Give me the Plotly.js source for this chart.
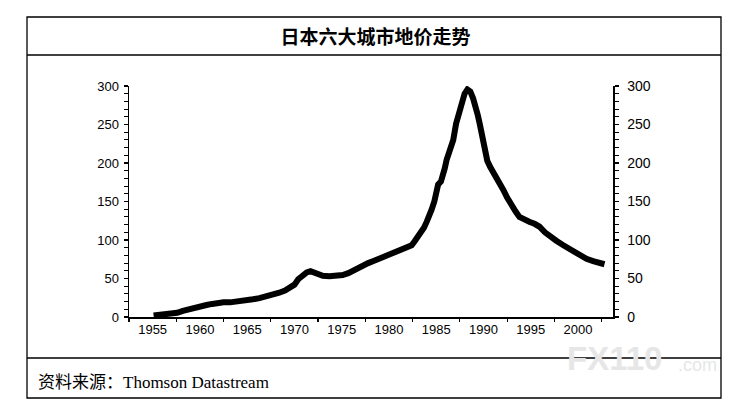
<!DOCTYPE html>
<html>
<head>
<meta charset="utf-8">
<script src="https://cdn.plot.ly/plotly-3.0.1.min.js"></script>
<style>html,body{margin:0;padding:0;background:#fff;}#chart{width:751px;height:414px;}</style>
</head>
<body>
<div id="chart"></div>
<script>
// ---- data ----
const years = [1955.1,1956.0,1957.0,1957.6,1958.2,1959.0,1959.6,1960.2,1960.7,1961.3,1961.9,1962.5,1963.2,1964.2,1964.9,1965.6,1966.3,1967.0,1967.7,1968.4,1969.0,1969.5,1970.0,1970.4,1970.9,1971.3,1971.7,1972.0,1972.3,1972.7,1973.0,1973.7,1974.5,1975.1,1975.7,1976.2,1976.8,1977.3,1977.8,1978.3,1978.9,1979.4,1979.9,1980.4,1980.8,1981.4,1982.0,1982.4,1982.7,1983.0,1983.3,1983.7,1984.0,1984.3,1984.5,1984.8,1985.0,1985.2,1985.5,1985.7,1985.9,1986.1,1986.4,1986.8,1987.1,1987.4,1987.7,1988.0,1988.3,1988.6,1988.9,1989.1,1989.4,1989.6,1989.9,1990.1,1990.4,1990.7,1991.0,1991.4,1991.7,1992.1,1992.5,1992.9,1993.4,1993.8,1994.3,1994.9,1995.4,1995.9,1996.5,1997.0,1997.7,1998.4,1999.0,1999.6,2000.2,2000.9,2001.6,2002.3,2002.8];
const landPrice = [2,3,3.5,5.5,8,11,13.5,15,15.6,17,18.6,19,19,20,21,23,24.5,26.5,29,31.6,34.5,37.5,42,49,55.5,58,59.5,58,55.5,54,53.5,53,53.5,54.5,57,60.5,64.5,67.5,70,72.5,74.5,78,80.5,83,85,87.5,90,93,98,103,108.7,116,123.8,131,139,150,163,172,176,182,193,204,214,230,251,265,277.5,290,295.5,293,284,277,262,251,233,218,203,195,189,180,174,165,155,146,137,130,126,123.5,121,117.5,110,104.5,99,93.5,89,84,79.5,75.5,72.5,70,68.5];
const xLabelYears = [1955,1960,1965,1970,1975,1980,1985,1990,1995,2000];
const xTickMarks = [1952.5,1957.5,1962.5,1967.5,1972.5,1977.5,1982.5,1987.5,1992.5,1997.5,2002.5];
const yTicks = [0,50,100,150,200,250,300];
const titleText = '日本六大城市地价走势';
const sourceText = '资料来源：<span style="font-family:\'Liberation Serif\',\'Times New Roman\',serif">Thomson Datastream</span>';

// ---- layout geometry ----
const W = 751, H = 414;
const L = 129, R = 613, T = 86, B = 317;
const pw = R - L, ph = B - T;
const px = x => (x - L) / pw;
const py = y => (B - y) / ph;

const font = {family: 'Liberation Sans, Arial, sans-serif', size: 13, color: '#000'};

const traces = [
  {x: years, y: landPrice, type: 'scatter', mode: 'lines', xaxis: 'x', yaxis: 'y',
   line: {color: '#000', width: 6, shape: 'linear'}, hoverinfo: 'skip', showlegend: false},
  {x: years, y: landPrice, type: 'scatter', mode: 'lines', xaxis: 'x2', yaxis: 'y2',
   line: {color: 'rgba(0,0,0,0)', width: 0}, hoverinfo: 'skip', showlegend: false}
];

const xr = [1952.5, 2003.7];
const layout = {
  width: W, height: H,
  margin: {l: L, r: W - R, t: T, b: H - B, pad: 0},
  paper_bgcolor: '#fff', plot_bgcolor: '#fff',
  font: font,
  showlegend: false,
  title: {text: '<b>' + titleText + '</b>', font: {family: 'Noto Sans CJK SC, sans-serif', size: 19, color: '#000'},
          x: 0.5, xref: 'container', xanchor: 'center', y: 1 - 37 / H, yref: 'container', yanchor: 'middle'},
  xaxis: {range: xr, tickvals: xLabelYears, ticktext: xLabelYears.map(String), ticks: '', showgrid: false,
          zeroline: false, showline: true, linecolor: '#000', linewidth: 1.5, tickfont: font, fixedrange: true},
  xaxis2: {range: xr, overlaying: 'x', anchor: 'y', side: 'bottom', tickvals: xTickMarks, ticks: 'outside', ticklen: 4,
           tickwidth: 1.2, tickcolor: '#000', showticklabels: false, showgrid: false, zeroline: false, showline: false},
  yaxis: {range: [0, 300], tickvals: yTicks, ticks: 'outside', ticklen: 4, tickwidth: 1.2, tickcolor: '#000',
          minor: {dtick: 10, tick0: 0, ticks: 'outside', ticklen: 4, tickwidth: 1, tickcolor: '#000', showgrid: false},
          showgrid: false, zeroline: false, showline: true, linecolor: '#000', linewidth: 1.5, tickfont: font, ticklabelstandoff: 2},
  yaxis2: {range: [0, 300], overlaying: 'y', side: 'right', anchor: 'x', tickvals: yTicks, ticks: 'outside', ticklen: 4, tickwidth: 1.2,
           tickcolor: '#000', minor: {dtick: 10, tick0: 0, ticks: 'outside', ticklen: 4, tickwidth: 1, tickcolor: '#000', showgrid: false},
           showgrid: false, zeroline: false, showline: true, linecolor: '#000', linewidth: 1.5,
           tickfont: {family: font.family, size: 14, color: '#000'}, ticklabelstandoff: 6},
  shapes: [
    {type: 'rect', xref: 'paper', yref: 'paper', x0: px(27), x1: px(721), y0: py(398), y1: py(17),
     line: {color: '#000', width: 1.3}, fillcolor: 'rgba(0,0,0,0)', layer: 'below'},
    {type: 'line', xref: 'paper', yref: 'paper', x0: px(27), x1: px(721), y0: py(55), y1: py(55), line: {color: '#000', width: 1.3}},
    {type: 'line', xref: 'paper', yref: 'paper', x0: px(27), x1: px(721), y0: py(358), y1: py(358), line: {color: '#000', width: 1.3}}
  ],
  annotations: [
    {text: '<b>FX110</b>', xref: 'paper', yref: 'paper', x: px(565), y: py(358), xanchor: 'left', yanchor: 'middle',
     showarrow: false, font: {family: 'Liberation Sans, Arial, sans-serif', size: 33, color: '#e6e6e6'}},
    {text: '.com', xref: 'paper', yref: 'paper', x: px(676), y: py(365), xanchor: 'left', yanchor: 'middle',
     showarrow: false, font: {family: 'Liberation Sans, Arial, sans-serif', size: 18, color: '#e6e6e6'}},
    {text: sourceText, xref: 'paper', yref: 'paper', x: px(36), y: py(380), xanchor: 'left', yanchor: 'middle',
     showarrow: false, font: {family: 'Noto Sans CJK SC, sans-serif', size: 17, color: '#000'}}
  ]
};

Plotly.newPlot('chart', traces, layout, {staticPlot: true, displayModeBar: false});
</script>
</body>
</html>
